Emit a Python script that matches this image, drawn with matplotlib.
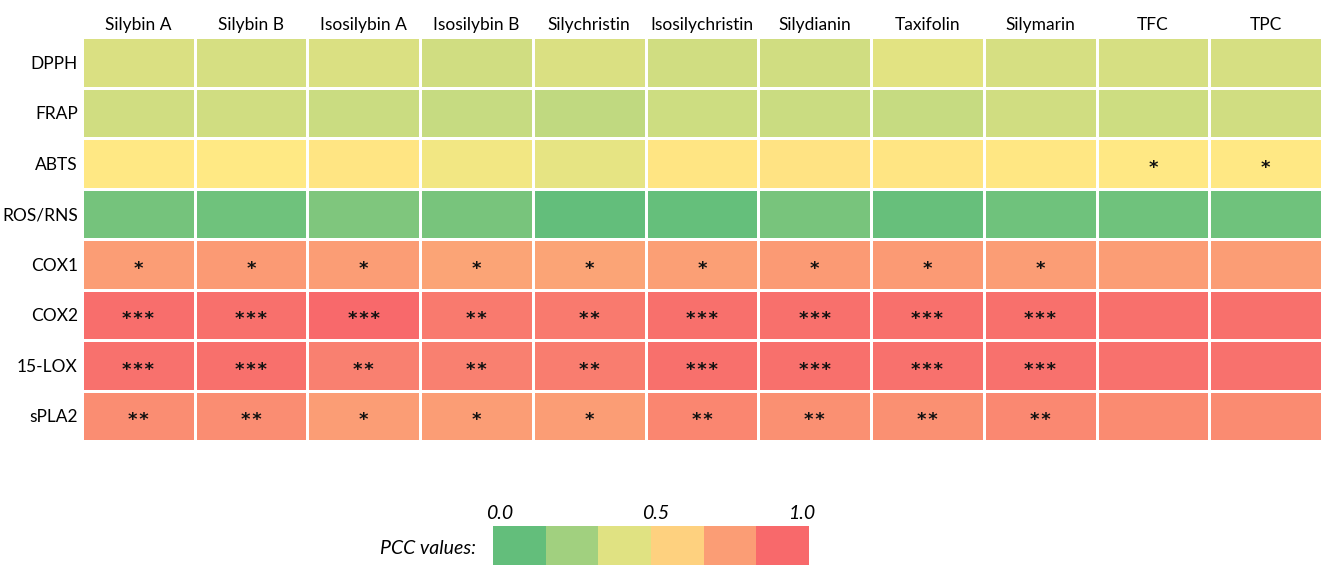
import matplotlib
matplotlib.use("Agg")
import matplotlib.pyplot as plt
from matplotlib.colors import LinearSegmentedColormap
from matplotlib.transforms import offset_copy
import numpy as np

plt.rcParams['font.family'] = ['Lato', 'DejaVu Sans']

# compounds (columns) and assays (rows)
compounds = ['Silybin A', 'Silybin B', 'Isosilybin A', 'Isosilybin B', 'Silychristin',
             'Isosilychristin', 'Silydianin', 'Taxifolin', 'Silymarin', 'TFC', 'TPC']
assays = ['DPPH', 'FRAP', 'ABTS', 'ROS/RNS', 'COX1', 'COX2', '15-LOX', 'sPLA2']

# PCC values per assay row
dpph = [0.38, 0.37, 0.38, 0.35, 0.38, 0.35, 0.35, 0.41, 0.37, 0.37, 0.37]
frap = [0.35, 0.35, 0.33, 0.32, 0.30, 0.34, 0.33, 0.32, 0.35, 0.34, 0.35]
abts = [0.51, 0.505, 0.52, 0.46, 0.42, 0.52, 0.53, 0.52, 0.515, 0.51, 0.51]
ros_rns = [0.06, 0.04, 0.09, 0.07, 0.00, 0.01, 0.07, 0.015, 0.04, 0.04, 0.04]
cox1 = [0.80, 0.81, 0.80, 0.77, 0.77, 0.79, 0.81, 0.81, 0.80, 0.80, 0.80]
cox2 = [0.98, 0.97, 1.00, 0.93, 0.93, 0.97, 0.97, 0.97, 0.97, 0.97, 0.97]
lox15 = [0.965, 0.97, 0.91, 0.91, 0.92, 0.97, 0.97, 0.965, 0.965, 0.965, 0.965]
spla2 = [0.86, 0.86, 0.80, 0.80, 0.80, 0.89, 0.85, 0.85, 0.88, 0.87, 0.87]

# significance marks
sig_dpph = [''] * 11
sig_frap = [''] * 11
sig_abts = [''] * 9 + ['*', '*']
sig_ros = [''] * 11
sig_cox1 = ['*'] * 9 + ['', '']
sig_cox2 = ['***', '***', '***', '**', '**', '***', '***', '***', '***', '', '']
sig_lox15 = ['***', '***', '**', '**', '**', '***', '***', '***', '***', '', '']
sig_spla2 = ['**', '**', '*', '*', '*', '**', '**', '**', '**', '', '']

# legend steps
legend_steps = [0.0, 0.2, 0.4, 0.6, 0.8, 1.0]
legend_ticks = ['0.0', '0.5', '1.0']

values = np.array([dpph, frap, abts, ros_rns, cox1, cox2, lox15, spla2])
marks = [sig_dpph, sig_frap, sig_abts, sig_ros, sig_cox1, sig_cox2, sig_lox15, sig_spla2]

# green - yellow - red scale
cmap = LinearSegmentedColormap.from_list('gyr', ['#63BE7B', '#FFEB84', '#F8696B'])

W, H = 1322, 565
fig = plt.figure(figsize=(W / 100, H / 100), dpi=100)

ax = fig.add_axes([82 / W, (H - 441) / H, 1240 / W, 404 / H])
ax.pcolormesh(values, cmap=cmap, vmin=0, vmax=1, edgecolors='white', linewidth=2)
ax.set_xlim(0, len(compounds))
ax.set_ylim(len(assays), 0)
for s in ax.spines.values():
    s.set_visible(False)

ax.xaxis.tick_top()
ax.set_xticks(np.arange(len(compounds)) + 0.5)
ax.set_xticklabels(compounds, fontsize=12.5)
ax.set_yticks(np.arange(len(assays)) + 0.5)
ax.set_yticklabels(assays, fontsize=12.5)
ax.tick_params(length=0, pad=3)

fs = 13
star_trans = offset_copy(ax.transData, fig=fig, y=-0.52 * fs, units='points')
for i, row in enumerate(marks):
    for j, m in enumerate(row):
        if m:
            ax.text(j + 0.5, i + 0.5, '\u200a'.join(m), ha='center', va='baseline',
                    fontsize=fs, fontweight='bold', family='DejaVu Sans',
                    color='#111111', transform=star_trans)

# colour key
lax = fig.add_axes([493 / W, 0, 316 / W, 39 / H])
lax.pcolormesh(np.array([legend_steps]), cmap=cmap, vmin=0, vmax=1)
lax.set_axis_off()
for xf, t in zip([0.022, 0.516, 0.978], legend_ticks):
    lax.text(xf, 1.33, t, transform=lax.transAxes, ha='center', va='center',
             fontsize=14, style='italic')
lax.text(-0.055, 0.42, 'PCC values:', transform=lax.transAxes, ha='right', va='center',
         fontsize=14, style='italic')

fig.savefig('out.png', dpi=100)
